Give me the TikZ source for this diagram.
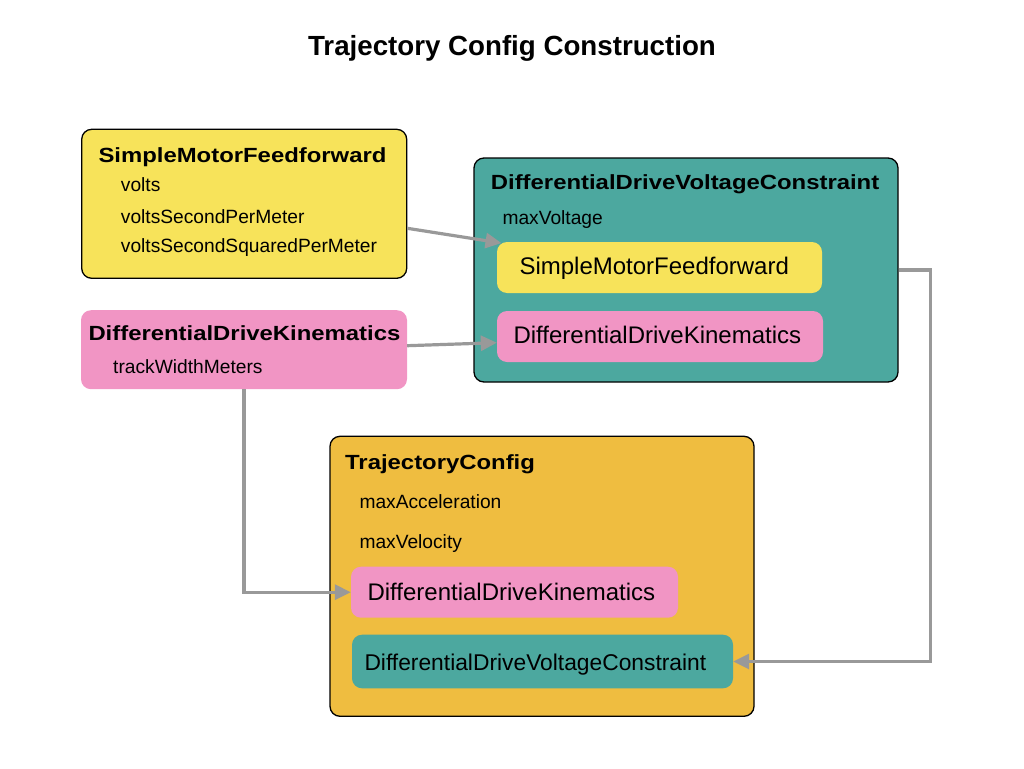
\documentclass[tikz,border=0pt]{standalone}
\usepackage{fontspec}
\setmainfont{Liberation Sans}
\newfontfamily\headfont{Liberation Sans}[FakeStretch=1.165]
\usepackage{tikz}
\usetikzlibrary{arrows.meta, positioning}

\definecolor{smfyellow}{HTML}{F7E35A}
\definecolor{ddkpink}{HTML}{F195C4}
\definecolor{ddvcteal}{HTML}{4CA89F}
\definecolor{tcorange}{HTML}{EFBD40}
\definecolor{linkgray}{HTML}{999999}

\tikzset{
  bigbox/.style={draw=black, line width=1.3pt, rounded corners=10pt, inner sep=0pt},
  subbox/.style={rounded corners=10pt, inner sep=0pt},
  head/.style={anchor=base west, inner sep=0pt, font=\headfont\bfseries\fontsize{20.5}{24}\selectfont},
  field/.style={anchor=base west, inner sep=0pt, font=\fontsize{19.2}{23}\selectfont},
  member/.style={anchor=base west, inner sep=0pt, font=\fontsize{24}{28}\selectfont},
  link/.style={->, draw=linkgray, line width=3.2pt}
}

\begin{document}
\begin{tikzpicture}[x=1pt, y=-1pt, >={Triangle[length=16pt,width=15pt]}]
        \useasboundingbox (0,0) rectangle (1024,768);

        % Title
        \node[anchor=base, inner sep=0pt, font=\bfseries\fontsize{27.7}{32}\selectfont] (title) at (512,56) {Trajectory Config Construction};

        % Outer boxes
        \node[bigbox, fill=smfyellow, minimum width=325pt, minimum height=149pt] (smf) at (244.2,203.8) {};
        \node[subbox, fill=ddkpink, minimum width=326pt, minimum height=79pt] (ddk) at (244,349.7) {};
        \node[bigbox, fill=ddvcteal, minimum width=424pt, minimum height=224pt] (ddvc) at (686,270) {};
        \node[bigbox, fill=tcorange, minimum width=424pt, minimum height=280pt] (tc) at (542,576.3) {};

        % Inner boxes
        \node[subbox, fill=smfyellow, minimum width=325pt, minimum height=51pt] (vsmf) at (659.5,267.5) {};
        \node[subbox, fill=ddkpink, minimum width=326pt, minimum height=51pt] (vddk) at (660,336.5) {};
        \node[subbox, fill=ddkpink, minimum width=327pt, minimum height=51pt] (tddk) at (514.5,592.2) {};
        \node[subbox, fill=ddvcteal, minimum width=381pt, minimum height=53.6pt] (tddvc) at (542.5,661.5) {};

        % SimpleMotorFeedforward
        \node[head] (smfhead) at (98.3,162) {SimpleMotorFeedforward};
        \node[field] (volts) at (120.7,191.7) {volts};
        \node[field] (vspm) at (120.7,223) {voltsSecondPerMeter};
        \node[field] (vsspm) at (120.7,252.7) {voltsSecondSquaredPerMeter};

        % DifferentialDriveKinematics
        \node[head] (ddkhead) at (88.3,340.5) {DifferentialDriveKinematics};
        \node[field] (twm) at (113,373) {trackWidthMeters};

        % DifferentialDriveVoltageConstraint
        \node[head] (ddvchead) at (490.7,189.3) {DifferentialDriveVoltageConstraint};
        \node[field] (maxv) at (502.3,224) {maxVoltage};
        \node[member] (vsmftext) at (519.3,274.3) {SimpleMotorFeedforward};
        \node[member] (vddktext) at (513.3,343.3) {DifferentialDriveKinematics};

        % TrajectoryConfig
        \node[head] (tchead) at (345,469.3) {TrajectoryConfig};
        \node[field] (maxacc) at (359.3,508.3) {maxAcceleration};
        \node[field] (maxvel) at (359.3,548) {maxVelocity};
        \node[member] (tddktext) at (367.3,600) {DifferentialDriveKinematics};
        \node[member, font=\fontsize{22.8}{27}\selectfont] (tddvctext) at (364.3,670.7) {DifferentialDriveVoltageConstraint};

        % Connectors
        \draw[link] ([yshift=-24.5pt]smf.east) -- ([xshift=4.7pt,yshift=-1.3pt]vsmf.north west);
        \draw[link] ([yshift=4pt]ddk.east) -- ([yshift=-6.2pt]vddk.west);
        \draw[link] (ddk.south) |- (tddk.west);
        \draw[link] (ddvc.east) -- ++(32,0) |- (tddvc.east);
\end{tikzpicture}
\end{document}
